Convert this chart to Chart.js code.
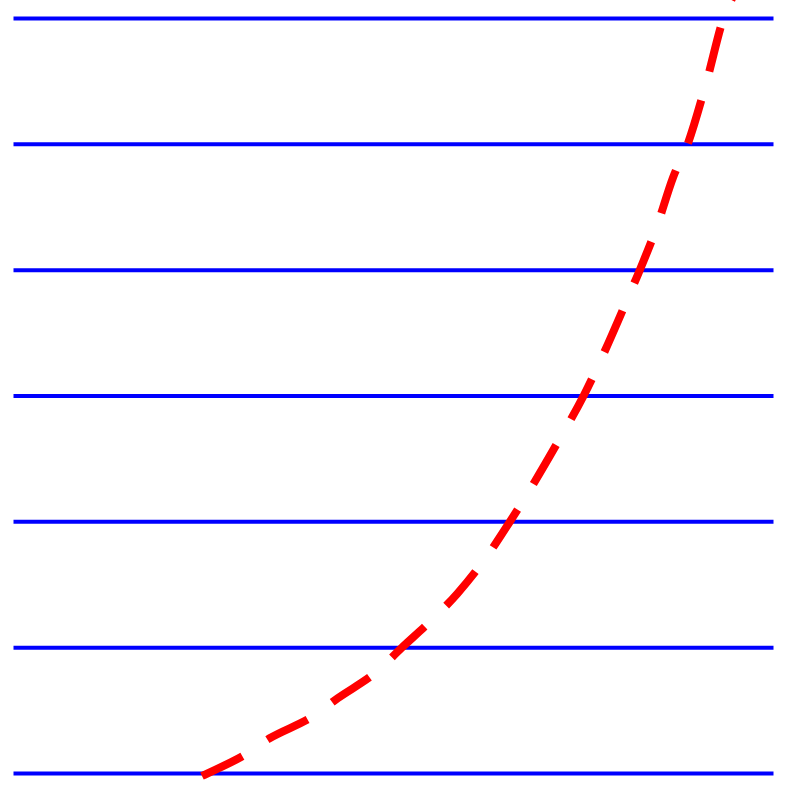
<!DOCTYPE html>
<html>
<head>
<meta charset="utf-8">
<script src="https://cdn.jsdelivr.net/npm/chart.js@4"></script>
<style>
  html, body { margin: 0; padding: 0; background: #fff; }
  #wrap { width: 789px; height: 793px; position: relative; }
</style>
</head>
<body>
<div id="wrap"><canvas id="chart"></canvas></div>
<script>
// horizontal reference levels
const levels = [0, 1, 2, 3, 4, 5, 6];
const levelSpan = [0, 10];

// dashed curve
const curveX = [2.48, 3.02, 3.37, 3.93, 4.27, 4.76, 5.11, 5.52, 5.84, 6.21, 6.53, 6.77, 7.14, 7.50, 7.76, 8.17, 8.24, 8.45, 8.68, 8.87, 9.12, 9.34, 9.47];
const curveY = [-0.02, 0.14, 0.28, 0.45, 0.60, 0.80, 1.00, 1.23, 1.43, 1.71, 2.00, 2.23, 2.61, 3.00, 3.33, 3.90, 4.00, 4.32, 4.74, 5.00, 5.50, 6.00, 6.18];

const levelSets = levels.map(function(v) {
  return {
    data: levelSpan.map(function(x) { return { x: x, y: v }; }),
    borderColor: '#0000ff',
    borderWidth: 4,
    pointRadius: 0,
    fill: false,
    order: 1,
    clip: false
  };
});

const curveSet = {
  data: curveX.map(function(x, i) { return { x: x, y: curveY[i] }; }),
  borderColor: '#ff0000',
  borderWidth: 8,
  borderDash: [45, 30],
  borderCapStyle: 'butt',
  cubicInterpolationMode: 'monotone',
  pointRadius: 0,
  fill: false,
  order: 0,
  clip: false
};

const ctx = document.getElementById('chart').getContext('2d');
new Chart(ctx, {
  type: 'line',
  data: { datasets: levelSets.concat([curveSet]) },
  options: {
    responsive: true,
    maintainAspectRatio: false,
    animation: false,
    layout: { padding: { left: 13.5, right: 15.5, top: 18.5, bottom: 19.5 } },
    plugins: {
      legend: { display: false },
      tooltip: { enabled: false }
    },
    scales: {
      x: { type: 'linear', min: 0, max: 10, display: false },
      y: { type: 'linear', min: 0, max: 6, display: false }
    }
  }
});
</script>
</body>
</html>
